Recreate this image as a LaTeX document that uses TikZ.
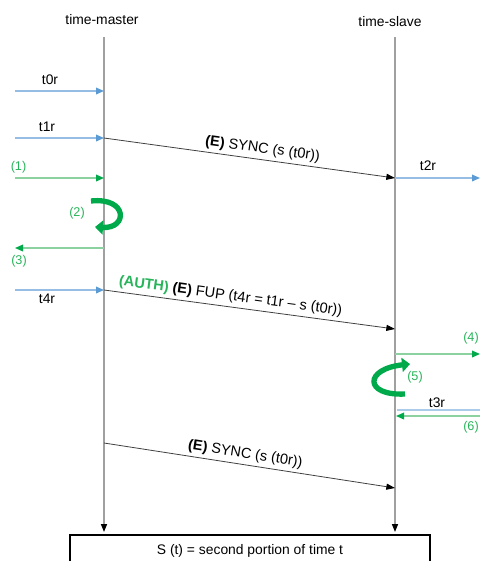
\documentclass[tikz,border=0pt]{standalone}
\usepackage{fontspec}
\setmainfont{Liberation Sans}
\usetikzlibrary{arrows.meta}
\definecolor{lgray}{RGB}{160,160,160}
\definecolor{blueline}{RGB}{150,190,228}
\definecolor{bluehead}{RGB}{91,155,213}
\definecolor{greenline}{RGB}{140,210,160}
\definecolor{greenhead}{RGB}{0,170,75}
\definecolor{greentext}{RGB}{40,180,90}
\begin{document}
\begin{tikzpicture}[x=0.75pt,y=-0.75pt,
  font=\fontsize{10.4}{12}\selectfont,
  life/.style={draw=lgray, line width=1.1pt, -{Triangle[length=6pt,width=4.5pt,color=black]}},
  blu/.style={draw=blueline, line width=1pt, -{Triangle[length=6pt,width=5pt,color=bluehead]}},
  bluplain/.style={draw=blueline!80, line width=1.6pt},
  grn/.style={draw=greenline, line width=1pt, -{Triangle[length=6pt,width=5pt,color=greenhead]}},
  msg/.style={draw=black!75, line width=0.6pt, -{Triangle[length=6.5pt,width=4.5pt,color=black]}},
  curv/.style={draw=greenhead, line width=4pt, -{Triangle[length=6pt,width=10.5pt]}},
  num/.style={text=greentext, inner sep=0pt, font=\fontsize{9.5}{11}\selectfont},
  lbl/.style={inner sep=0pt},
  msglbl/.style={sloped, above, inner sep=2.5pt, font=\fontsize{10.9}{12}\selectfont}
]
\useasboundingbox (0,0) rectangle (480,561);
\clip (0,0) rectangle (480,561);

% lifeline headers
\node[lbl] (master) at (102,20) {time-master};
\node[lbl] (slave) at (390,22) {time-slave};

\coordinate (mtop) at (104,37);
\coordinate (mbot) at (104,532);
\coordinate (stop) at (395,37);
\coordinate (sbot) at (395,532);
\draw[life] (mtop) -- (mbot);
\draw[life] (stop) -- (sbot);

% bottom box
\node[draw=black, line width=1.1pt, minimum width=270pt, minimum height=30pt, inner sep=0pt] (box) at (250,555) {};
\node[lbl] (boxtxt) at (250,551) {S (t) = second portion of time t};

% left inputs
\coordinate (l0) at (15,91);   \coordinate (m0) at (104,91);
\coordinate (l1) at (15,138);  \coordinate (m1) at (104,138);
\coordinate (lg1) at (15,178); \coordinate (mg1) at (104,178);
\coordinate (mg3) at (104,248); \coordinate (lg3) at (15,248);
\coordinate (l4) at (15,290);  \coordinate (m4) at (104,290);
\draw[blu] (l0) -- (m0);
\draw[blu] (l1) -- (m1);
\draw[grn] (lg1) -- (mg1);
\draw[grn] (mg3) -- (lg3);
\draw[blu] (l4) -- (m4);
\node[lbl] (t0r) at (50,80) {t0r};
\node[lbl] (t1r) at (47,127) {t1r};
\node[num] (n1) at (18.5,167) {(1)};
\node[num] (n2) at (77,213) {(2)};
\node[num] (n3) at (19,261) {(3)};
\node[lbl] (t4r) at (47,299) {t4r};

% curved arrow (2)
\coordinate (c2a) at (91,201);
\coordinate (c2b) at (95,227);
\draw[curv] (c2a) .. controls (128,197) and (128,229) .. (c2b);

% messages
\coordinate (s1) at (395,178);
\draw[msg] (m1) -- node[msglbl, pos=.54] {\textbf{(E)} SYNC (s (t0r))} (s1);
\coordinate (s4) at (395,329);
\draw[msg] (m4) -- node[msglbl, pos=.43] {\textcolor{greentext}{\textbf{(AUTH)}} \textbf{(E)} FUP (t4r = t1r – s (t0r))} (s4);
\coordinate (m5) at (104,443);
\coordinate (s5) at (395,488);
\draw[msg] (m5) -- node[msglbl, pos=.48] {\textbf{(E)} SYNC (s (t0r))} (s5);

% right side
\coordinate (r2) at (480,178);
\draw[blu] (s1) -- (r2);
\node[lbl] (t2r) at (428,166) {t2r};
\coordinate (sg4) at (395,354); \coordinate (rg4) at (480,354);
\draw[grn] (sg4) -- (rg4);
\node[num] (n4) at (471,338) {(4)};
\coordinate (c5a) at (405,394);
\coordinate (c5b) at (410,364);
\draw[curv] (c5a) .. controls (364,396) and (364,369) .. (c5b);
\node[num] (n5) at (415,377) {(5)};
\coordinate (r3) at (480,410); \coordinate (s3) at (397,410);
\draw[bluplain] (r3) -- (s3);
\node[lbl] (t3r) at (437,403) {t3r};
\coordinate (rg6) at (480,416); \coordinate (sg6) at (396,416);
\draw[grn] (rg6) -- (sg6);
\node[num] (n6) at (471,427) {(6)};
\end{tikzpicture}
\end{document}
